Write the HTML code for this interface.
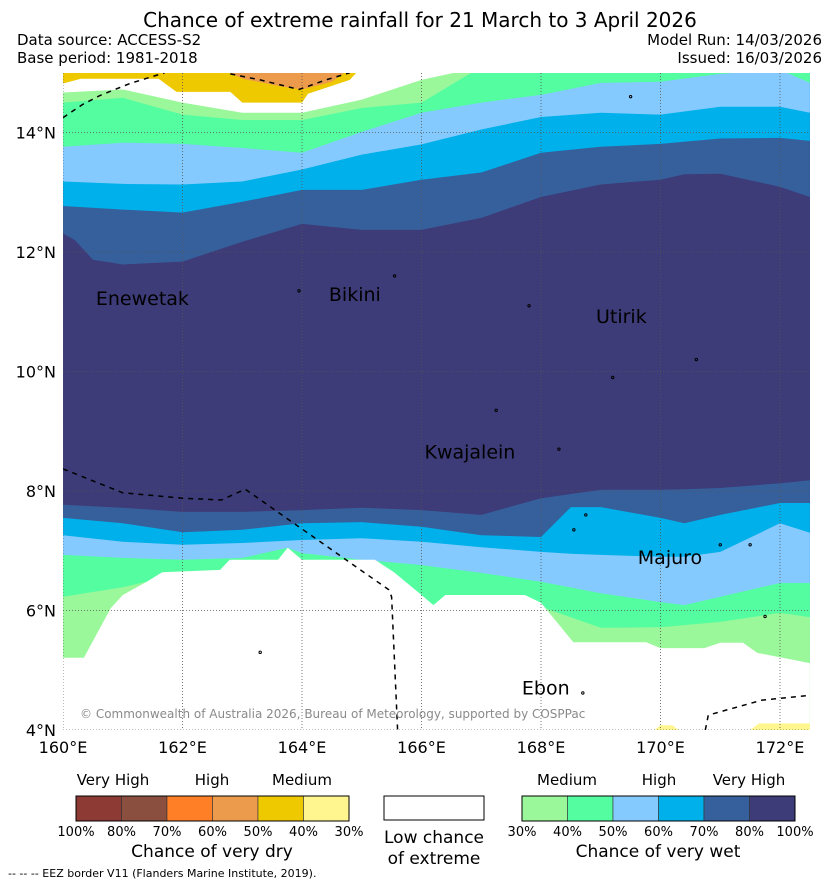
<!DOCTYPE html>
<html><head><meta charset="utf-8"><style>
body{margin:0;background:#fff;}
svg text{font-family:"DejaVu Sans","Liberation Sans",sans-serif;}
</style></head><body>
<svg id="c" width="839" height="885" viewBox="0 0 839 885" xmlns="http://www.w3.org/2000/svg">
<defs><clipPath id="mapclip"><rect x="63" y="73" width="747" height="657"/></clipPath></defs>
<text x="420" y="27" font-size="20" text-anchor="middle">Chance of extreme rainfall for 21 March to 3 April 2026</text>
<text x="17" y="45" font-size="15">Data source: ACCESS-S2</text>
<text x="17" y="63" font-size="15">Base period: 1981-2018</text>
<text x="822" y="45" font-size="15" text-anchor="end">Model Run: 14/03/2026</text>
<text x="822" y="63" font-size="15" text-anchor="end">Issued: 16/03/2026</text>
<g id="map" clip-path="url(#mapclip)"></g>
<g id="axes"></g>
<g id="legend"></g>
<text x="8" y="877" font-size="11">--  --  -- EEZ border V11 (Flanders Marine Institute, 2019).</text>
</svg>
<script>
// North boundaries (latitude of upper edge of each class, by longitude)
const nLon = [160,161,162,163,164,165,166,167,168,169,170,171,172,172.5];
const navyTopLon = [160,160.2,160.5,161,162,163,164,165,166,167,168,169,170,170.4,171,172,172.5];
const navyTopLat = [12.31,12.2,11.87,11.79,11.84,12.17,12.47,12.37,12.37,12.57,12.92,13.13,13.21,13.3,13.31,13.09,12.92];
const blueTopLat = [12.77,12.71,12.66,12.84,13.04,13.04,13.21,13.33,13.66,13.76,13.81,13.9,13.91,13.86];
const cyanTopLat = [13.18,13.14,13.13,13.18,13.38,13.63,13.80,14.05,14.26,14.33,14.30,14.43,14.43,14.33];
const lightblueTopLat = [13.76,13.83,13.81,13.74,13.66,14.01,14.33,14.5,14.63,14.83,14.85,14.98,15.05,14.83];
const greenTopLat = [14.5,14.58,14.3,14.21,14.21,14.41,14.5,15.1,15.1,15.1,15.1,15.1,15.1,15.1];
const lightgreenTopLat = [14.67,14.72,14.5,14.33,14.33,14.55,14.88,15.1,15.1,15.1,15.1,15.1,15.1,15.1];
const yellowBotLon = [160,160.3,161,161.6,161.9,162.8,163,164,164.1,164.8,165,172.5];
const yellowBotLat = [14.82,14.9,14.9,14.9,14.68,14.68,14.5,14.5,14.65,14.88,15.1,15.1];
const orangeLon = [162.6,163,163.6,164,164.5,164.85];
const orangeLat = [15.1,14.9,14.78,14.72,14.85,15.1];
// South boundaries (latitude of lower edge of each class)
const sLon = [160,161,162,163,164,165,166,167,168,168.5,169,170,170.4,171,172,172.5];
const navyBotLat = [7.77,7.72,7.65,7.65,7.68,7.72,7.68,7.60,7.88,7.95,8.02,8.02,8.03,8.05,8.13,8.18];
const blueBotLat = [7.55,7.46,7.31,7.35,7.46,7.48,7.40,7.26,7.23,7.73,7.73,7.55,7.46,7.60,7.80,7.80];
const cyanBotLat = [7.26,7.15,7.10,7.13,7.18,7.21,7.15,7.06,6.98,6.95,6.93,6.90,6.90,6.98,7.46,7.30];
const lbBotLon = [160,161,162,163,163.76,164,165,166,167,168,169,170,170.4,171,172,172.5];
const lbBotLat = [6.93,6.88,6.85,6.88,7.05,6.96,6.85,6.76,6.63,6.48,6.29,6.14,6.09,6.23,6.46,6.46];
const greenBotLon = [160,161,161.4,162,168,169,170,171,172,172.5];
const greenBotLat = [6.23,6.39,6.48,6.0,6.06,5.71,5.72,5.81,5.96,5.89];
const whiteTopLon = [160,160.35,160.6,160.8,161,161.4,161.66,162.63,162.79,163.6,163.76,164,165.22,165.54,166,166.2,166.4,167.73,168,168.54,169,169.76,170,170.73,171,171.38,171.62,172.5];
const whiteTopLat = [5.21,5.21,5.67,6.04,6.26,6.48,6.64,6.68,6.85,6.85,7.05,6.85,6.85,6.64,6.26,6.09,6.26,6.26,6.13,5.47,5.47,5.47,5.37,5.37,5.46,5.46,5.29,5.12];
// EEZ border lines (lon, lat)
const eezALon = [160,160.33,160.62,161.12,161.7], eezALat = [14.25,14.47,14.62,14.82,15.0];
const eezBLon = [162.8,163.3,163.95,164.4,164.8];
const eezBLat = [14.98,14.88,14.72,14.88,15.0];
const eezCLon = [160,161,162,162.65,163.05,165.45,165.5,165.6];
const eezCLat = [8.37,7.97,7.88,7.85,8.03,6.35,6.23,4.0];
const eezDLon = [170.75,170.8,171.7,172.5];
const eezDLat = [4.0,4.25,4.5,4.58];
// Places
const placeNames = ["Enewetak","Bikini","Utirik","Kwajalein","Majuro","Ebon"];
const placeLon = [160.55,164.45,168.92,166.05,169.62,167.68];
const placeLat = [11.11,11.18,10.81,8.54,6.78,4.59];
// Axis ticks
const xTicks = [160,162,164,166,168,170,172];
const yTicks = [4,6,8,10,12,14];
// Legend
const dryColors = ["#8c3a33","#8a4f3e","#ff7f27","#eb9b4b","#eec900","#fff68f"];
const dryLabels = ["100%","80%","70%","60%","50%","40%","30%"];
const wetColors = ["#9af89a","#54fda0","#84caff","#00b0ea","#35609c","#3d3b78"];
const wetLabels = ["30%","40%","50%","60%","70%","80%","100%"];

const NS="http://www.w3.org/2000/svg";
const X = lon => 63 + (lon-160)*59.75;
const Y = lat => 730 - (lat-4)*59.75;
function mk(tag, attrs, parent){const e=document.createElementNS(NS,tag);for(const k in attrs)e.setAttribute(k,attrs[k]);parent.appendChild(e);return e;}
const map=document.getElementById('map');
function pts(lons,lats){return lons.map((l,i)=>X(l).toFixed(1)+','+Y(lats[i]).toFixed(1));}
function fillTop(lons,lats,color,name){
  const p=[X(lons[0])+','+(Y(16))].concat(pts(lons,lats)).concat([X(lons[lons.length-1])+','+Y(16)]);
  const e=mk('polygon',{points:p.join(' '),fill:color},map);
  
  
}
function fillBot(lons,lats,color,name){
  const p=[X(lons[0])+','+Y(3)].concat(pts(lons,lats)).concat([X(lons[lons.length-1])+','+Y(3)]);
  const e=mk('polygon',{points:p.join(' '),fill:color},map);
  
  
}
const bg=mk('rect',{x:63,y:73,width:747,height:657,fill:'#3d3b78'},map);


fillTop(navyTopLon,navyTopLat,'#35609c','north-70-80-band');
fillTop(nLon,blueTopLat,'#00b0ea','north-60-70-band');
fillTop(nLon,cyanTopLat,'#84caff','north-50-60-band');
fillTop(nLon,lightblueTopLat,'#54fda0','north-40-50-band');
fillTop(nLon,greenTopLat,'#9af89a','north-30-40-band');
fillTop(nLon,lightgreenTopLat,'#ffffff','north-low-chance-band');
fillTop(yellowBotLon,yellowBotLat,'#eec900','north-dry-medium-band');
fillTop(orangeLon,orangeLat,'#eb9b4b','north-dry-high-band');
fillBot(sLon,navyBotLat,'#35609c','south-70-80-band');
fillBot(sLon,blueBotLat,'#00b0ea','south-60-70-band');
fillBot(sLon,cyanBotLat,'#84caff','south-50-60-band');
fillBot(lbBotLon,lbBotLat,'#54fda0','south-40-50-band');
fillBot(greenBotLon,greenBotLat,'#9af89a','south-30-40-band');
fillBot(whiteTopLon,whiteTopLat,'#ffffff','south-low-chance-region');
const p1=mk('polygon',{points:[X(169.9)+','+Y(4),X(170.0)+','+Y(4.08),X(170.2)+','+Y(4.08),X(170.3)+','+Y(4)].join(' '),fill:'#fff68f'},map);


const p2=mk('polygon',{points:[X(171.5)+','+Y(4),X(171.65)+','+Y(4.11),X(172.5)+','+Y(4.11),X(172.5)+','+Y(4)].join(' '),fill:'#fff68f'},map);


xTicks.forEach(t=>{const g=mk('line',{x1:X(t),x2:X(t),y1:73,y2:730,stroke:'#555','stroke-width':0.8,'stroke-dasharray':'1,2'},map);
  
  });
yTicks.forEach(t=>{const g=mk('line',{x1:63,x2:810,y1:Y(t),y2:Y(t),stroke:'#555','stroke-width':0.8,'stroke-dasharray':'1,2'},map);
  
  });
[[eezALon,eezALat],[eezBLon,eezBLat],[eezCLon,eezCLat],[eezDLon,eezDLat]].forEach(([a,b])=>{
  const e=mk('polyline',{points:pts(a,b).join(' '),fill:'none',stroke:'#000','stroke-width':1.5,'stroke-dasharray':'5,5'},map);
  
  
});
[[163.95,11.35],[165.55,11.6],[167.8,11.1],[170.6,10.2],[169.2,9.9],[167.25,9.35],[168.3,8.7],[168.75,7.6],[168.55,7.35],[171.0,7.1],[171.5,7.1],[163.3,5.3],[171.75,5.9],[168.7,4.62],[169.5,14.6]].forEach(([a,b])=>{
  const e=mk('circle',{cx:X(a),cy:Y(b),r:1.2,fill:'none',stroke:'#000','stroke-width':1},map);
  
  
});
placeNames.forEach((n,i)=>{
  const t=mk('text',{x:X(placeLon[i]),y:Y(placeLat[i]),'font-size':19,fill:'#000'},map);
  t.textContent=n;
  
  
});
const cp=mk('text',{x:80,y:718,'font-size':12,fill:'#8a8a8a'},map);
cp.textContent='© Commonwealth of Australia 2026, Bureau of Meteorology, supported by COSPPac';


const axes=document.getElementById('axes');
xTicks.forEach(t=>{const e=mk('text',{x:X(t),y:753,'font-size':16,'text-anchor':'middle'},axes);e.textContent=t+'°E';
  
  });
yTicks.forEach(t=>{const e=mk('text',{x:56,y:Y(t)+6,'font-size':16,'text-anchor':'end'},axes);e.textContent=t+'°N';
  
  });
const lg=document.getElementById('legend');
function bar(x0,colors,labels,name){
  const w=45.5;
  colors.forEach((c,i)=>{const r=mk('rect',{x:x0+i*w,y:796,width:w,height:25,fill:c,stroke:'#333','stroke-width':0.6},lg);
    
    });
  const o=mk('rect',{x:x0,y:796,width:w*6,height:25,fill:'none',stroke:'#000','stroke-width':1},lg);
  
  
  labels.forEach((l,i)=>{const t=mk('text',{x:x0+i*w,y:836,'font-size':13,'text-anchor':'middle'},lg);t.textContent=l;
    
    });
}
bar(76,dryColors,dryLabels,'dry-colorbar');
bar(522,wetColors,wetLabels,'wet-colorbar');
const lb=mk('rect',{x:384,y:796,width:100,height:24,fill:'#fff',stroke:'#000','stroke-width':1},lg);


[["Very High",113,785,15],["High",212,785,15],["Medium",302,785,15],["Medium",567,785,15],["High",659,785,15],["Very High",749,785,15],
 ["Chance of very dry",212,857,17],["Low chance",434,843,17],["of extreme",434,864,17],["Chance of very wet",658,857,17]].forEach(([s,x,y,f])=>{
  const t=mk('text',{x:x,y:y,'font-size':f,'text-anchor':'middle'},lg);t.textContent=s;
  
  
});
</script>
</body></html>
